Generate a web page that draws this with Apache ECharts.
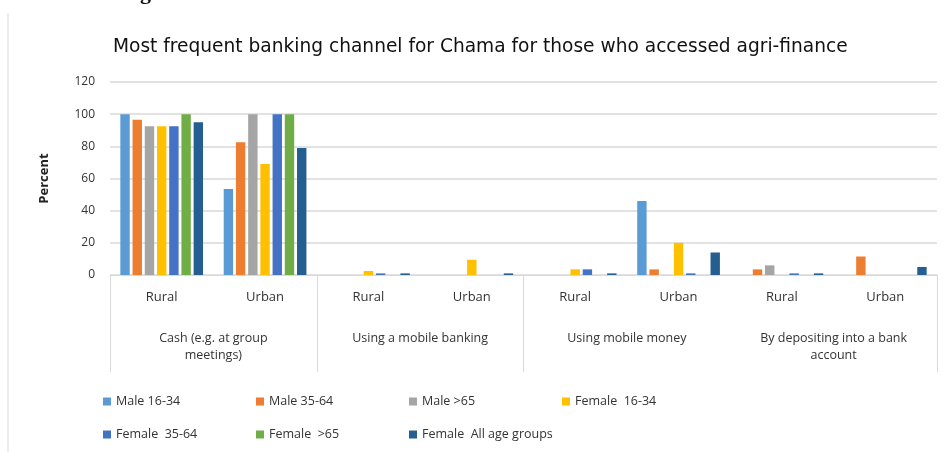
<!DOCTYPE html>
<html>
<head>
<meta charset="utf-8">
<script src="https://cdn.jsdelivr.net/npm/echarts@6/dist/echarts.min.js"></script>
<style>
  html, body { margin: 0; padding: 0; background: #fff; }
  #chart { width: 947px; height: 452px; }
</style>
</head>
<body>
<div id="chart"></div>
<script>
const categories = ['Rural', 'Urban', 'Rural', 'Urban', 'Rural', 'Urban', 'Rural', 'Urban'];
const groups = ['Cash (e.g. at group\nmeetings)', 'Using a mobile banking', 'Using mobile money', 'By depositing into a bank\naccount'];
const seriesNames = ['Male 16-34', 'Male 35-64', 'Male >65', 'Female  16-34', 'Female  35-64', 'Female  >65', 'Female  All age groups'];
const male1634 = [100, 53.5, 0, 0, 0, 46, 0, 0];
const male3564 = [96.5, 82.5, 0, 0, 0, 3.5, 3.5, 11.5];
const male65 = [92.5, 100, 0, 0, 0, 0, 6, 0];
const female1634 = [92.5, 69, 2.5, 9.5, 3.5, 20, 0, 0];
const female3564 = [92.5, 100, 1, 0, 3.5, 1, 1, 0];
const female65 = [100, 100, 0, 0, 0, 0, 0, 0];
const femaleAll = [95, 79, 1, 1, 1, 14, 1, 5];
const yTicks = { min: 0, max: 120, interval: 20 };

const colors = ['#5B9BD5', '#ED7D31', '#A5A5A5', '#FFC000', '#4472C4', '#70AD47', '#255E91'];
const allData = [male1634, male3564, male65, female1634, female3564, female65, femaleAll];
const font = '"Open Sans", sans-serif';
const grey = '#d9d9d9';

const chart = echarts.init(document.getElementById('chart'));
chart.setOption({
  animation: false,
  color: colors,
  title: {
    text: 'Most frequent banking channel for Chama for those who accessed agri-finance',
    left: 108, top: 33,
    textStyle: { fontFamily: '"DejaVu Sans", sans-serif', fontSize: 18.6, fontWeight: 'normal', color: '#111' }
  },
  graphic: [
    { type: 'line', shape: { x1: 8, y1: 13, x2: 8, y2: 452 }, style: { stroke: grey, lineWidth: 1 } },
    { type: 'text', left: 140, top: -18, style: { text: 'g', font: 'bold 22px "Liberation Serif"', fill: '#111' } }
  ],
  legend: {
    left: 98, top: 385, width: 620,
    icon: 'rect', itemWidth: 8, itemHeight: 8, itemGap: 10,
    textStyle: { fontFamily: font, fontSize: 12.5, color: '#333', width: 130, lineHeight: 23 },
    data: seriesNames
  },
  grid: { left: 110, right: 10, top: 82, bottom: 177 },
  xAxis: [
    {
      type: 'category', data: categories, position: 'bottom',
      axisLine: { lineStyle: { color: grey } },
      axisTick: { show: false },
      axisLabel: { fontFamily: font, fontSize: 13, color: '#333', margin: 16, interval: 0 }
    },
    {
      type: 'category', data: groups, position: 'bottom',
      axisLine: { show: false },
      axisTick: { show: true, length: 97, lineStyle: { color: grey }, interval: function (i) { return i !== 3; } },
      axisLabel: { fontFamily: font, fontSize: 12.5, color: '#333', margin: 55, lineHeight: 17, interval: 0 }
    }
  ],
  yAxis: {
    type: 'value', min: yTicks.min, max: yTicks.max, interval: yTicks.interval,
    name: 'Percent', nameLocation: 'middle', nameRotate: 90, nameGap: 59,
    nameTextStyle: { fontFamily: font, fontSize: 13, fontWeight: 'bold', color: '#222' },
    axisLine: { show: false },
    axisTick: { show: false },
    axisLabel: { fontFamily: font, fontSize: 12, color: '#333', margin: 15 },
    splitLine: { lineStyle: { color: grey, width: 1.5 } }
  },
  series: seriesNames.map((name, i) => ({
    name: name, type: 'bar', xAxisIndex: 0,
    data: allData[i],
    barGap: '30%', barCategoryGap: '20%',
    itemStyle: { color: colors[i] }
  }))
});
</script>
</body>
</html>
